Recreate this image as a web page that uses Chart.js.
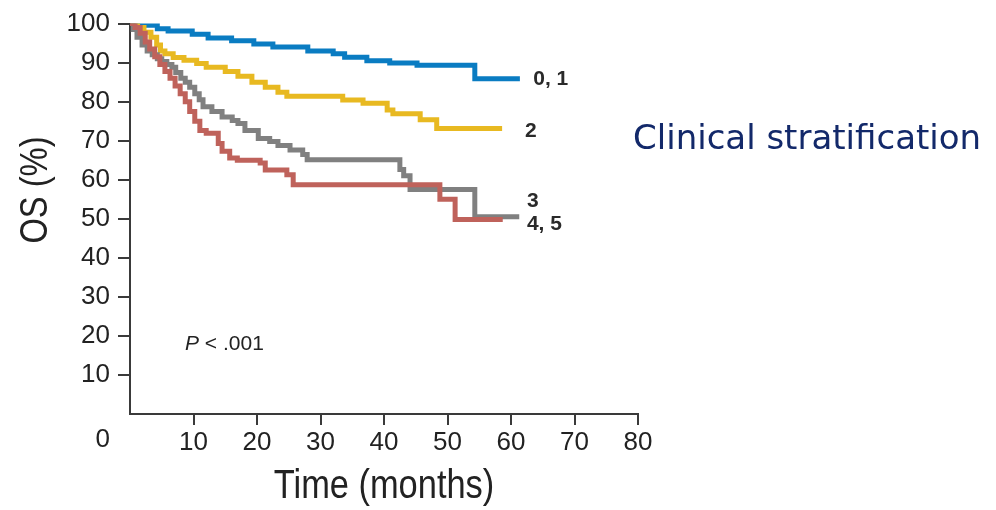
<!DOCTYPE html>
<html>
<head>
<meta charset="utf-8">
<script src="https://cdn.jsdelivr.net/npm/chart.js@4.4.1/dist/chart.umd.min.js"></script>
<style>
  html, body { margin: 0; padding: 0; background: #ffffff; }
  #wrap { position: relative; width: 996px; height: 510px; }
</style>
</head>
<body>
<div id="wrap"><canvas id="km" width="996" height="510"></canvas></div>
<script>
// Kaplan-Meier overall survival by clinical risk group (level holds until each event time)
const groupNames = ['0, 1', '2', '3', '4, 5'];
const groupColors = ['#0a7cc2', '#e8b921', '#808080', '#bf625b'];

const monthsG01 = [0, 2, 4.3, 6, 9.8, 12.3, 16, 19.5, 22.5, 28, 32, 33.8, 37.3, 40.9, 45.2, 54.3, 61.4];
const osG01     = [100, 99.6, 98.7, 98.1, 97.3, 96.3, 95.6, 94.8, 94.0, 93.0, 92.3, 91.4, 90.5, 89.9, 89.3, 85.9, 85.9];

const monthsG2 = [0, 1.2, 2.2, 3.3, 4.2, 4.8, 5.5, 6.8, 8.5, 10.5, 12, 15, 17, 19.2, 21.3, 23.3, 24.7, 33.5, 36.7, 40.5, 41.4, 45.7, 48.3, 58.6];
const osG2     = [100, 99, 97.8, 96.5, 94.5, 93, 92.3, 91.3, 90.6, 89.8, 88.8, 87.7, 86.5, 85, 83.7, 82.4, 81.4, 80.4, 79.6, 77.9, 76.9, 75.4, 73.1, 73.1];

const monthsG3 = [0, 0.5, 1.1, 1.9, 2.7, 3.5, 4.3, 5.0, 5.8, 6.6, 7.2, 8.0, 8.7, 9.4, 10.2, 10.9, 11.5, 12.9, 14.5, 16.1, 17, 18.1, 20.2, 22, 23.3, 25.2, 27.2, 27.9, 42.5, 43.1, 44.1, 54.3, 61.3];
const osG3     = [100, 98.5, 96.5, 94.5, 93, 92, 91, 90.3, 89.5, 88.8, 87.5, 86, 85, 83.7, 82, 80.5, 78.7, 77.5, 76.1, 75.2, 74.4, 72.6, 70.6, 69.8, 68.8, 67.6, 66.5, 65.1, 62.6, 61, 57.5, 50.5, 50.5];

const monthsG45 = [0, 0.8, 1.6, 2.4, 3.1, 3.9, 4.7, 5.5, 6.3, 7.1, 7.9, 8.7, 9.4, 10.2, 11, 12, 13.9, 14.5, 15.7, 16.9, 20.5, 21.3, 24.7, 25.7, 48.8, 51.2, 58.7];
const osG45     = [100, 99, 97.5, 95.3, 93.5, 91.5, 89.5, 87.7, 86, 84, 82, 80, 77.5, 75, 72.6, 71.9, 69.3, 67.3, 65.6, 65.0, 64.3, 62.5, 61.3, 58.7, 55, 49.8, 49.8];

// where each group's name sits, in axis units (months, %)
const nameAtMonths = [63.5, 62.2, 62.5, 62.5];
const nameAtOS     = [85.7, 72.4, 54.5, 48.7];

const xTickValues = [0, 10, 20, 30, 40, 50, 60, 70, 80];
const yTickValues = [0, 10, 20, 30, 40, 50, 60, 70, 80, 90, 100];

const xTitle = 'Time (months)';
const yTitle = 'OS (%)';
const pValueText = '< .001';
const panelTitle = 'Clinical stratification';

const toPoints = (xs, ys) => xs.map((x, i) => ({ x: x, y: ys[i] }));
const series = [
  toPoints(monthsG01, osG01),
  toPoints(monthsG2, osG2),
  toPoints(monthsG3, osG3),
  toPoints(monthsG45, osG45)
];

// dataset 0 is painted on top in Chart.js, so list the groups from last to first
const datasets = [3, 2, 1, 0].map(i => ({
  label: groupNames[i],
  data: series[i],
  borderColor: groupColors[i],
  backgroundColor: groupColors[i],
  borderWidth: 5,
  stepped: 'before',
  pointRadius: 0,
  fill: false,
  tension: 0
}));

const AXIS = '#3a3a3a';
const TEXT = '#222222';
const SANS = '"Liberation Sans", Arial, Helvetica, sans-serif';

// draw text squeezed horizontally, to get a condensed grotesque look
function condensedText(ctx, text, x, y, squeeze, angle) {
  ctx.save();
  ctx.translate(x, y);
  if (angle) ctx.rotate(angle);
  ctx.scale(squeeze, 1);
  ctx.fillText(text, 0, 0);
  ctx.restore();
}

const annotations = {
  id: 'annotations',
  afterDraw(chart) {
    const ctx = chart.ctx;
    const xs = chart.scales.x, ys = chart.scales.y;
    const area = chart.chartArea;
    ctx.save();
    ctx.fillStyle = TEXT;
    ctx.textAlign = 'center';
    ctx.textBaseline = 'middle';

    // axis titles
    ctx.font = '38px ' + SANS;
    condensedText(ctx, yTitle, 37, 190, 0.86, -Math.PI / 2);
    ctx.font = '40px ' + SANS;
    condensedText(ctx, xTitle, (area.left + area.right) / 2, 487, 0.86, 0);

    // shared origin label
    ctx.font = '26px ' + SANS;
    ctx.textAlign = 'right';
    ctx.fillText('0', 110, 440);

    // log-rank p value
    ctx.textAlign = 'left';
    ctx.font = 'italic 21px ' + SANS;
    const px = 185, py = 344;
    ctx.fillText('P', px, py);
    const pw = ctx.measureText('P ').width;
    ctx.font = '21px ' + SANS;
    ctx.fillText(pValueText, px + pw, py);

    // group names at the end of each curve
    ctx.font = 'bold 21px ' + SANS;
    ctx.fillStyle = '#2a2a2a';
    groupNames.forEach((name, i) => {
      ctx.fillText(name, xs.getPixelForValue(nameAtMonths[i]), ys.getPixelForValue(nameAtOS[i]));
    });

    // panel caption
    ctx.fillStyle = '#13296a';
    ctx.font = '34px "DejaVu Sans", Verdana, sans-serif';
    ctx.textBaseline = 'alphabetic';
    ctx.fillText(panelTitle, 633, 149);

    ctx.restore();
  }
};

new Chart(document.getElementById('km'), {
  type: 'line',
  data: { datasets: datasets },
  options: {
    responsive: false,
    animation: false,
    devicePixelRatio: 1,
    layout: { padding: { left: 0, right: 358, top: 19, bottom: 0 } },
    plugins: { legend: { display: false }, tooltip: { enabled: false } },
    elements: { line: { borderJoinStyle: 'miter', borderCapStyle: 'butt' } },
    scales: {
      x: {
        type: 'linear',
        min: 0,
        max: 80,
        afterBuildTicks: s => { s.ticks = xTickValues.map(v => ({ value: v })); },
        afterFit: s => { s.height = 96; },
        border: { display: true, color: AXIS, width: 2 },
        grid: {
          drawOnChartArea: false,
          drawTicks: true,
          tickLength: 11,
          lineWidth: 2,
          color: c => (c.tick && c.tick.value === 0) ? 'rgba(0,0,0,0)' : AXIS
        },
        ticks: {
          autoSkip: false,
          maxRotation: 0,
          padding: 2,
          color: TEXT,
          font: { family: SANS, size: 26 },
          callback: v => (v === 0 ? '' : String(v))
        }
      },
      y: {
        min: 0,
        max: 100,
        afterBuildTicks: s => { s.ticks = yTickValues.map(v => ({ value: v })); },
        afterFit: s => { s.width = 130; },
        border: { display: true, color: AXIS, width: 2 },
        grid: {
          drawOnChartArea: false,
          drawTicks: true,
          tickLength: 12,
          lineWidth: 2,
          color: c => (c.tick && c.tick.value === 0) ? 'rgba(0,0,0,0)' : AXIS
        },
        ticks: {
          padding: 8,
          color: TEXT,
          font: { family: SANS, size: 26 },
          callback: v => (v === 0 ? '' : String(v))
        }
      }
    }
  },
  plugins: [annotations]
});
</script>
</body>
</html>
